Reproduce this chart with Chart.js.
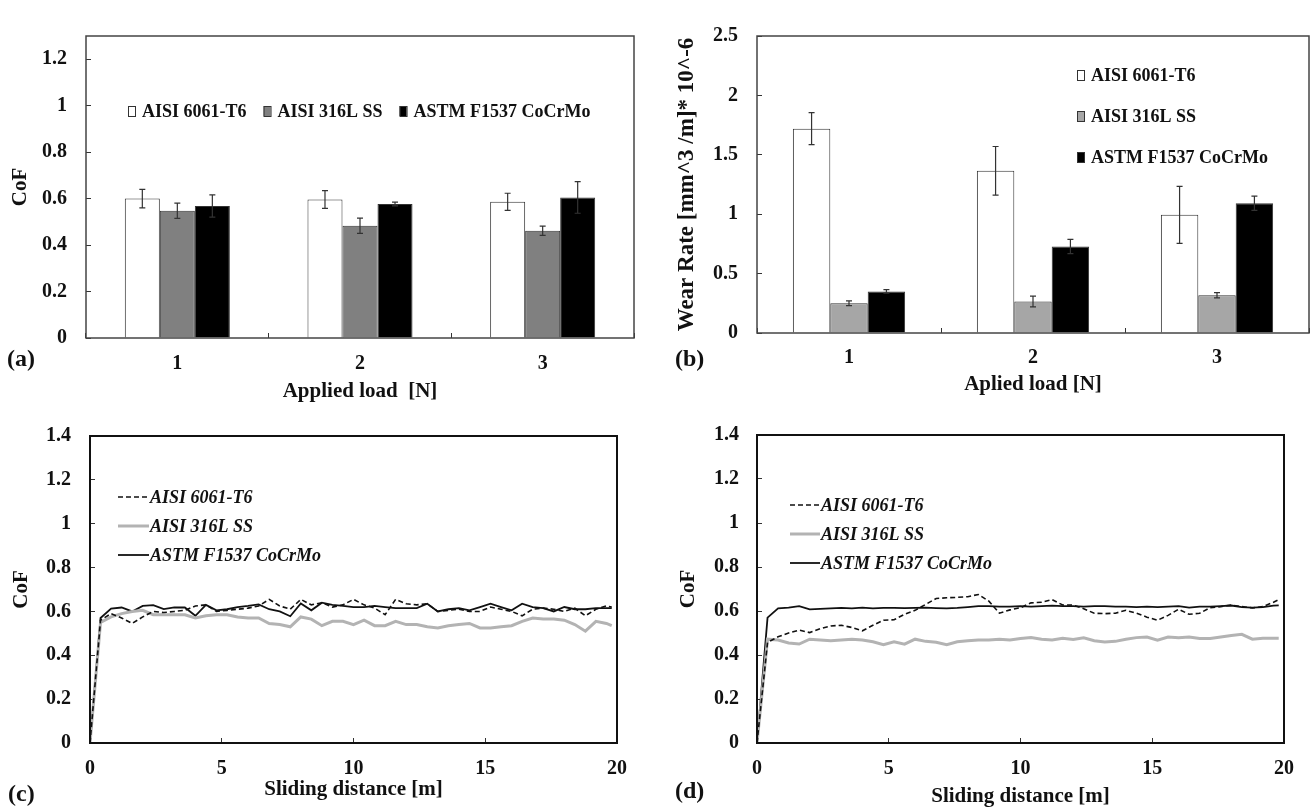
<!DOCTYPE html>
<html>
<head>
<meta charset="utf-8">
<script src="https://cdn.jsdelivr.net/npm/chart.js@4.4.1/dist/chart.umd.min.js"></script>
<style>
  body { margin: 0; background: #fff; width: 1313px; height: 811px; overflow: hidden; position: relative; }
  canvas { position: absolute; }
  .tag { position: absolute; font: bold 24px "Liberation Serif", serif; color: #111; line-height: 1; }
</style>
</head>
<body>
<canvas id="panelA"></canvas>
<canvas id="panelB"></canvas>
<canvas id="panelC"></canvas>
<canvas id="panelD"></canvas>
<div class="tag" style="left:7px;top:346px">(a)</div>
<div class="tag" style="left:675px;top:346px">(b)</div>
<div class="tag" style="left:8px;top:781px">(c)</div>
<div class="tag" style="left:675px;top:778px">(d)</div>

<script>
// ---- data ----
const loadLabels = ["1", "2", "3"];
const materials = ["AISI 6061-T6", "AISI 316L SS", "ASTM F1537 CoCrMo"];

// (a) CoF vs applied load
const cofAl = [0.600, 0.596, 0.586];
const cofAlErr = [0.040, 0.038, 0.037];
const cofSS = [0.548, 0.483, 0.462];
const cofSSErr = [0.033, 0.033, 0.020];
const cofCo = [0.568, 0.577, 0.605];
const cofCoErr = [0.048, 0.008, 0.068];

// (b) wear rate vs applied load
const wearAl = [1.720, 1.365, 0.995];
const wearAlErr = [0.135, 0.205, 0.240];
const wearSS = [0.250, 0.265, 0.318];
const wearSSErr = [0.020, 0.045, 0.022];
const wearCo = [0.350, 0.728, 1.092];
const wearCoErr = [0.015, 0.060, 0.060];

// (c), (d) CoF vs sliding distance
const distance = [0, 0.4, 0.8, 1.2, 1.6, 2, 2.4, 2.8, 3.2, 3.6,
  4, 4.4, 4.8, 5.2, 5.6, 6, 6.4, 6.8, 7.2, 7.6,
  8, 8.4, 8.8, 9.2, 9.6, 10, 10.4, 10.8, 11.2, 11.6,
  12, 12.4, 12.8, 13.2, 13.6, 14, 14.4, 14.8, 15.2, 15.6,
  16, 16.4, 16.8, 17.2, 17.6, 18, 18.4, 18.8, 19.2, 19.6, 19.8];

const slideC_Al = [0, 0.56, 0.59, 0.57, 0.545, 0.575, 0.60, 0.595, 0.60, 0.605,
  0.625, 0.63, 0.60, 0.605, 0.61, 0.615, 0.625, 0.655, 0.625, 0.61,
  0.655, 0.63, 0.64, 0.62, 0.63, 0.655, 0.63, 0.615, 0.585, 0.655,
  0.635, 0.63, 0.635, 0.60, 0.605, 0.61, 0.60, 0.60, 0.62, 0.61,
  0.60, 0.58, 0.61, 0.615, 0.61, 0.60, 0.615, 0.58, 0.61, 0.625, 0.62];
const slideC_SS = [0, 0.55, 0.575, 0.59, 0.60, 0.605, 0.585, 0.585, 0.585, 0.585,
  0.57, 0.58, 0.585, 0.585, 0.575, 0.57, 0.57, 0.545, 0.54, 0.53,
  0.575, 0.565, 0.535, 0.555, 0.555, 0.54, 0.56, 0.535, 0.535, 0.555,
  0.54, 0.54, 0.53, 0.525, 0.535, 0.54, 0.545, 0.525, 0.525, 0.53,
  0.535, 0.555, 0.57, 0.565, 0.565, 0.56, 0.54, 0.51, 0.555, 0.545, 0.535];
const slideC_Co = [0, 0.57, 0.613, 0.618, 0.60, 0.625, 0.629, 0.611, 0.618, 0.618,
  0.58, 0.63, 0.605, 0.61, 0.62, 0.625, 0.632, 0.61, 0.60, 0.578,
  0.636, 0.605, 0.64, 0.63, 0.625, 0.62, 0.62, 0.625, 0.62, 0.615,
  0.615, 0.615, 0.635, 0.60, 0.61, 0.615, 0.605, 0.62, 0.635, 0.62,
  0.605, 0.635, 0.62, 0.615, 0.60, 0.62, 0.61, 0.61, 0.615, 0.615, 0.615];

const slideD_Al = [0, 0.457, 0.483, 0.50, 0.513, 0.502, 0.52, 0.532, 0.535, 0.525,
  0.51, 0.535, 0.558, 0.56, 0.585, 0.603, 0.63, 0.657, 0.66, 0.662,
  0.665, 0.675, 0.645, 0.59, 0.605, 0.615, 0.637, 0.64, 0.652, 0.627,
  0.627, 0.61, 0.59, 0.588, 0.59, 0.603, 0.59, 0.572, 0.558, 0.58,
  0.608, 0.585, 0.59, 0.615, 0.62, 0.627, 0.62, 0.614, 0.62, 0.64, 0.652];
const slideD_SS = [0, 0.472, 0.468, 0.455, 0.45, 0.472, 0.468, 0.465, 0.468, 0.472,
  0.468, 0.46, 0.447, 0.46, 0.449, 0.472, 0.462, 0.458, 0.447, 0.46,
  0.465, 0.468, 0.468, 0.472, 0.468, 0.475, 0.479, 0.472, 0.468, 0.476,
  0.47, 0.478, 0.465, 0.459, 0.462, 0.472, 0.479, 0.482, 0.467, 0.482,
  0.478, 0.482, 0.475, 0.475, 0.482, 0.489, 0.494, 0.472, 0.476, 0.476, 0.476];
const slideD_Co = [0, 0.57, 0.612, 0.615, 0.622, 0.607, 0.61, 0.612, 0.614, 0.612,
  0.615, 0.612, 0.614, 0.614, 0.613, 0.614, 0.615, 0.613, 0.612, 0.614,
  0.618, 0.622, 0.622, 0.62, 0.62, 0.622, 0.62, 0.622, 0.624, 0.622,
  0.622, 0.62, 0.622, 0.622, 0.62, 0.62, 0.618, 0.62, 0.618, 0.62,
  0.622, 0.615, 0.62, 0.62, 0.622, 0.625, 0.618, 0.615, 0.618, 0.624, 0.626];

// ---- look ----
const ink = "#111";
Chart.defaults.font.family = '"Liberation Serif", "Times New Roman", serif';
Chart.defaults.color = ink;

// plot frame around the chart area
const frame = {
  id: "frame",
  afterDatasetsDraw(chart, args, opts) {
    const a = chart.chartArea, ctx = chart.ctx;
    ctx.save();
    ctx.strokeStyle = opts.color;
    ctx.lineWidth = opts.width;
    ctx.strokeRect(a.left, a.top, a.right - a.left, a.bottom - a.top);
    ctx.restore();
  }
};

// error bars read from dataset.errors
const errorBars = {
  id: "errorBars",
  afterDatasetsDraw(chart) {
    const ctx = chart.ctx, y = chart.scales.y;
    chart.data.datasets.forEach((ds, i) => {
      if (!ds.errors) return;
      chart.getDatasetMeta(i).data.forEach((bar, j) => {
        const top = y.getPixelForValue(ds.data[j] + ds.errors[j]);
        const bot = y.getPixelForValue(ds.data[j] - ds.errors[j]);
        ctx.save();
        ctx.strokeStyle = "#333";
        ctx.lineWidth = 1.2;
        ctx.beginPath();
        ctx.moveTo(bar.x, top); ctx.lineTo(bar.x, bot);
        ctx.moveTo(bar.x - 3, top); ctx.lineTo(bar.x + 3, top);
        ctx.moveTo(bar.x - 3, bot); ctx.lineTo(bar.x + 3, bot);
        ctx.stroke();
        ctx.restore();
      });
    });
  }
};

// legend drawn inside the plot, like the original
const keyBox = {
  id: "keyBox",
  afterDraw(chart, args, o) {
    const ctx = chart.ctx, a = chart.chartArea;
    let x = a.left + o.x, y = a.top + o.y;
    ctx.save();
    ctx.font = o.font;
    ctx.textBaseline = "middle";
    ctx.textAlign = "left";
    chart.data.datasets.forEach(ds => {
      if (o.kind === "box") {
        ctx.fillStyle = ds.backgroundColor;
        ctx.fillRect(x, y - 5, 7, 10);
        ctx.strokeStyle = "#333";
        ctx.lineWidth = 1;
        ctx.strokeRect(x + 0.5, y - 4.5, 7, 10);
        ctx.fillStyle = ink;
        ctx.fillText(ds.label, x + 14, y + 1);
        if (o.row) x += 14 + ctx.measureText(ds.label).width + o.gap;
        else y += o.step;
      } else {
        ctx.strokeStyle = ds.borderColor;
        ctx.lineWidth = ds.borderWidth;
        ctx.setLineDash(ds.borderDash || []);
        ctx.beginPath();
        ctx.moveTo(x, y); ctx.lineTo(x + o.len, y);
        ctx.stroke();
        ctx.setLineDash([]);
        ctx.fillStyle = ink;
        ctx.fillText(ds.label, x + o.len + 1, y + 1);
        y += o.step;
      }
    });
    ctx.restore();
  }
};

function place(canvas, g) {
  canvas.width = g.w;
  canvas.height = g.h;
  canvas.style.left = g.x + "px";
  canvas.style.top = g.y + "px";
}

// 1 instead of 1.0, 0.2 stays 0.2
const plainNum = v => String(Number(Number(v).toFixed(3)));

function scaleX(g, b, o) {
  const s = {
    grid: { drawOnChartArea: false, drawTicks: true, tickLength: -5, color: "#333" },
    border: { display: false },
    ticks: { color: ink, font: { size: 20, weight: "bold" }, padding: o.tickPad, maxRotation: 0, autoSkip: false },
    title: { display: true, text: o.title, color: ink, font: { size: 21, weight: "bold" }, padding: { top: 0, bottom: o.titlePad } },
    afterFit: sc => { sc.height = g.y + g.h - b.B; }
  };
  if (o.linear) {
    s.type = "linear"; s.min = 0; s.max = 20;
    s.ticks.stepSize = 5;
    s.ticks.callback = plainNum;
  }
  return s;
}

function scaleY(g, b, o) {
  return {
    min: 0, max: o.max,
    grid: { drawOnChartArea: false, drawTicks: true, tickLength: -5, color: "#333" },
    border: { display: false },
    ticks: { color: ink, font: { size: 20, weight: "bold" }, padding: o.tickPad, stepSize: o.step, callback: plainNum },
    title: { display: true, text: o.title, color: ink, font: { size: o.titleSize || 21, weight: "bold" }, padding: { top: o.titlePad, bottom: 0 } },
    afterBuildTicks: sc => { sc.ticks = sc.ticks.filter(t => t.value <= o.top + 1e-9); },
    afterFit: sc => { sc.width = b.L - g.x; }
  };
}

function pad(g, b) {
  return { left: 0, top: b.T - g.y, right: g.x + g.w - b.R, bottom: 0 };
}

function barPanel(id, g, b, cfg) {
  const cv = document.getElementById(id);
  place(cv, g);
  return new Chart(cv, {
    type: "bar",
    data: {
      labels: loadLabels,
      datasets: cfg.series.map((s, i) => ({
        label: materials[i],
        data: s.data,
        errors: s.err,
        backgroundColor: s.color,
        borderColor: "#333",
        borderWidth: 1,
        categoryPercentage: cfg.groupWidth,
        barPercentage: 1
      }))
    },
    options: {
      responsive: false,
      animation: false,
      layout: { padding: pad(g, b) },
      plugins: {
        legend: { display: false },
        tooltip: { enabled: false },
        frame: { color: "#444", width: 1.5 },
        keyBox: cfg.key
      },
      scales: { x: scaleX(g, b, cfg.x), y: scaleY(g, b, cfg.y) }
    },
    plugins: [errorBars, frame, keyBox]
  });
}

function linePanel(id, g, b, cfg) {
  const cv = document.getElementById(id);
  place(cv, g);
  const styles = [
    { borderColor: "#111", borderWidth: 1.6, borderDash: [5, 3] },
    { borderColor: "#b3b3b3", borderWidth: 3 },
    { borderColor: "#111", borderWidth: 1.8 }
  ];
  return new Chart(cv, {
    type: "line",
    data: {
      datasets: cfg.series.map((vals, i) => Object.assign({
        label: materials[i],
        data: distance.map((d, k) => ({ x: d, y: vals[k] })),
        pointRadius: 0,
        tension: 0,
        fill: false
      }, styles[i]))
    },
    options: {
      responsive: false,
      animation: false,
      layout: { padding: pad(g, b) },
      plugins: {
        legend: { display: false },
        tooltip: { enabled: false },
        frame: { color: "#111", width: 2 },
        keyBox: cfg.key
      },
      scales: { x: scaleX(g, b, cfg.x), y: scaleY(g, b, cfg.y) }
    },
    plugins: [frame, keyBox]
  });
}

const legendFont = 'bold 18px "Liberation Serif"';
const legendFontIt = 'italic bold 18px "Liberation Serif"';

barPanel("panelA",
  { x: 0, y: 0, w: 656, h: 410 },
  { L: 86, T: 19, R: 634, B: 338 },
  {
    series: [
      { data: cofAl, err: cofAlErr, color: "#ffffff" },
      { data: cofSS, err: cofSSErr, color: "#808080" },
      { data: cofCo, err: cofCoErr, color: "#000000" }
    ],
    groupWidth: 0.575,
    key: { kind: "box", row: true, x: 42, y: 75, gap: 17, font: legendFont },
    x: { title: "Applied load  [N]", tickPad: 19, titlePad: 5.4 },
    y: { title: "CoF", max: 1.3, top: 1.2, step: 0.2, tickPad: 24, titlePad: 8.4 }
  });

barPanel("panelB",
  { x: 656, y: 0, w: 657, h: 410 },
  { L: 757, T: 16, R: 1309, B: 333 },
  {
    series: [
      { data: wearAl, err: wearAlErr, color: "#ffffff" },
      { data: wearSS, err: wearSSErr, color: "#a6a6a6" },
      { data: wearCo, err: wearCoErr, color: "#000000" }
    ],
    groupWidth: 0.61,
    key: { kind: "box", row: false, x: 320, y: 39, step: 41, font: legendFont },
    x: { title: "Aplied load [N]", tickPad: 18, titlePad: 12.4 },
    y: { title: "Wear Rate [mm^3 /m]* 10^-6", titleSize: 23, max: 2.5, top: 2.5, step: 0.5, tickPad: 24, titlePad: 17.2 }
  });

linePanel("panelC",
  { x: 0, y: 400, w: 656, h: 411 },
  { L: 90, T: 432, R: 617, B: 743 },
  {
    series: [slideC_Al, slideC_SS, slideC_Co],
    key: { kind: "line", x: 28, y: 61, step: 29, len: 31, font: legendFontIt },
    x: { title: "Sliding distance [m]", linear: true, tickPad: 19, titlePad: 8.4 },
    y: { title: "CoF", max: 1.4, top: 1.4, step: 0.2, tickPad: 24, titlePad: 9.4 }
  });

linePanel("panelD",
  { x: 656, y: 400, w: 657, h: 411 },
  { L: 757, T: 432, R: 1289, B: 743 },
  {
    series: [slideD_Al, slideD_SS, slideD_Co],
    key: { kind: "line", x: 33, y: 70, step: 29, len: 30, font: legendFontIt },
    x: { title: "Sliding distance [m]", linear: true, tickPad: 19, titlePad: 1.4 },
    y: { title: "CoF", max: 1.4, top: 1.4, step: 0.2, tickPad: 23, titlePad: 20.4 }
  });
</script>
</body>
</html>
